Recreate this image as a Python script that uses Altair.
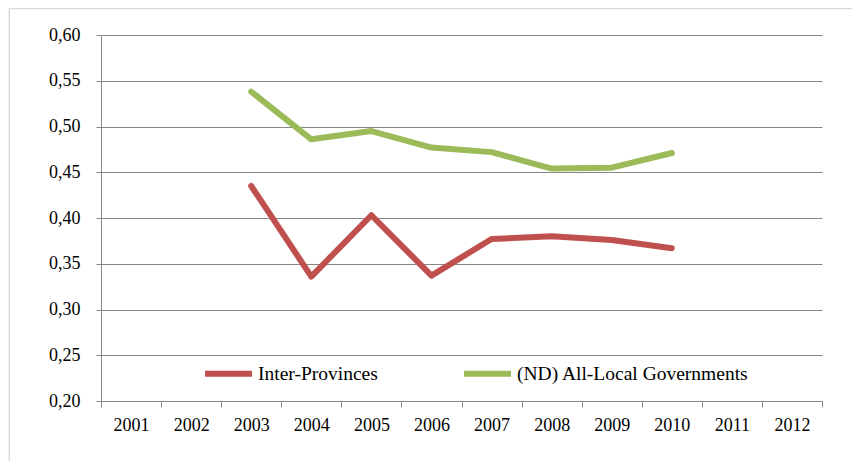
import altair as alt
import pandas as pd

years = ["2001", "2002", "2003", "2004", "2005", "2006",
         "2007", "2008", "2009", "2010", "2011", "2012"]
data_years = ["2003", "2004", "2005", "2006", "2007", "2008", "2009", "2010"]
series_names = ["Inter-Provinces", "(ND) All-Local Governments"]
inter_values = [0.435, 0.336, 0.403, 0.337, 0.377, 0.380, 0.376, 0.367]
all_local_values = [0.538, 0.486, 0.495, 0.477, 0.472, 0.454, 0.455, 0.471]
y_ticks = [0.20, 0.25, 0.30, 0.35, 0.40, 0.45, 0.50, 0.55, 0.60]
colors = ["#C0504D", "#9BBB59"]

rows = []
for name, vals in zip(series_names, [inter_values, all_local_values]):
    for yr, v in zip(data_years, vals):
        rows.append({"year": yr, "value": v, "series": name})
df = pd.DataFrame(rows)

FONT = "'Liberation Serif', 'Times New Roman', 'DejaVu Serif', serif"
GRAY = "#878787"

lines = alt.Chart(df).mark_line(
    strokeWidth=6, strokeCap="round", strokeJoin="round"
).encode(
    x=alt.X(
        "year:O",
        bandPosition=0.5,
        scale=alt.Scale(type="band", domain=years, paddingInner=0, paddingOuter=0),
        axis=alt.Axis(
            title=None, labelAngle=0, tickBand="extent", ticks=True, tickSize=6,
            tickColor=GRAY, domainColor=GRAY, grid=False,
            labelFont=FONT, labelFontSize=18, labelColor="#000000", labelPadding=9,
        ),
    ),
    y=alt.Y(
        "value:Q",
        scale=alt.Scale(domain=[0.2, 0.6], nice=False, zero=False),
        axis=alt.Axis(
            title=None, values=y_ticks,
            labelExpr="replace(format(datum.value, '.2f'), '.', ',')",
            grid=True, gridColor=GRAY, tickColor=GRAY, domainColor=GRAY,
            tickSize=5, labelPadding=16,
            labelFont=FONT, labelFontSize=18, labelColor="#000000",
        ),
    ),
    color=alt.Color(
        "series:N",
        scale=alt.Scale(domain=series_names, range=colors),
        legend=alt.Legend(
            title=None, orient="none", legendX=101, legendY=312,
            direction="horizontal", symbolType="stroke", symbolSize=2209,
            symbolStrokeWidth=6, labelFont=FONT, labelFontSize=19.5,
            labelColor="#000000", columnPadding=74, labelOffset=3,
            labelLimit=500,
        ),
    ),
)

frame_df = pd.DataFrame({"k": [0]})
frame_top = alt.Chart(frame_df).mark_rule(color="#D9D9D9", strokeWidth=1.5).encode(
    x=alt.value(-92), x2=alt.value(760), y=alt.value(-26.5)
)
frame_left = alt.Chart(frame_df).mark_rule(color="#D9D9D9", strokeWidth=1.5).encode(
    x=alt.value(-91.7), y=alt.value(-26.5), y2=alt.value(440)
)

chart = alt.layer(frame_top, frame_left, lines).properties(
    width=721, height=366,
    autosize=alt.AutoSizeParams(type="none"),
    padding={"left": 93, "top": 27, "right": 30, "bottom": 60},
).configure_view(stroke=None)

chart.save("out.html", embed_options={"renderer": "svg", "actions": False})
